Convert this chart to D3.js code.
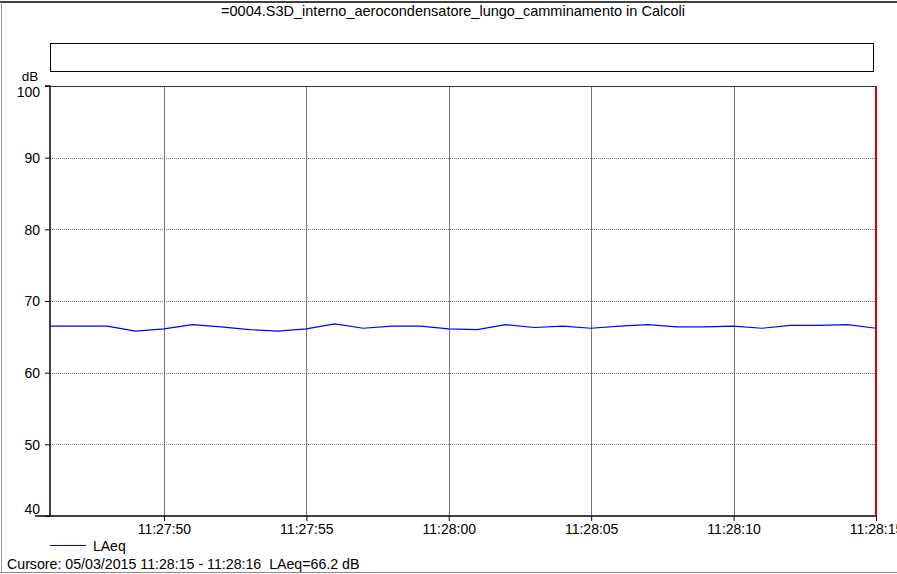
<!DOCTYPE html>
<html>
<head>
<meta charset="utf-8">
<script src="https://cdn.jsdelivr.net/npm/d3@7"></script>
<style>
html,body{margin:0;padding:0;background:#fff;}
svg{display:block;font-family:"Liberation Sans",Arial,sans-serif;}
</style>
</head>
<body>
<svg id="chart" width="897" height="574"></svg>
<script>
const title = "=0004.S3D_interno_aerocondensatore_lungo_camminamento in Calcoli";
const times = ["11:27:46","11:27:47","11:27:48","11:27:49","11:27:50","11:27:51","11:27:52","11:27:53","11:27:54","11:27:55",
"11:27:56","11:27:57","11:27:58","11:27:59","11:28:00","11:28:01","11:28:02","11:28:03","11:28:04","11:28:05",
"11:28:06","11:28:07","11:28:08","11:28:09","11:28:10","11:28:11","11:28:12","11:28:13","11:28:14","11:28:15"];
const laeq = [66.5,66.5,66.5,65.8,66.1,66.7,66.4,66.0,65.8,66.1,
66.8,66.2,66.5,66.5,66.1,66.0,66.7,66.3,66.5,66.2,
66.5,66.7,66.4,66.4,66.5,66.2,66.6,66.6,66.7,66.2];
const xTickLabels = ["11:27:50","11:27:55","11:28:00","11:28:05","11:28:10","11:28:15"];
const yTicks = [40,50,60,70,80,90,100];
const cursorTime = "11:28:15";
const seriesName = "LAeq";
const unit = "dB";
const cursorText = "Cursore: 05/03/2015 11:28:15 - 11:28:16  LAeq=66.2 dB";

const parse = d3.timeParse("%H:%M:%S");
const svg = d3.select("#chart");
const L = 50, R = 876, T = 86, B = 516;

const x = d3.scaleTime().domain([parse(times[0]), parse(times[times.length-1])]).range([L, R]);
const y = d3.scaleLinear().domain([40, 100]).range([B, T]);

// outer frame
svg.append("line").attr("x1",0).attr("x2",897).attr("y1",2).attr("y2",2).attr("stroke","#000").attr("stroke-width",1.5);
svg.append("line").attr("x1",1.5).attr("x2",1.5).attr("y1",2).attr("y2",573).attr("stroke","#999").attr("stroke-width",1);
svg.append("line").attr("x1",0).attr("x2",897).attr("y1",572.5).attr("y2",572.5).attr("stroke","#888").attr("stroke-width",1);

// title
svg.append("text").attr("x",453).attr("y",16).attr("text-anchor","middle")
  .style("font-size","14.5px").attr("fill","#000").text(title);

// empty box
svg.append("rect").attr("x",50.5).attr("y",43.5).attr("width",823).attr("height",28)
  .attr("fill","none").attr("stroke","#000").attr("stroke-width",1);

// unit
svg.append("text").attr("x",30).attr("y",81).attr("text-anchor","middle").style("font-size","13.5px").text(unit);

// horizontal grid (dotted)
svg.append("g").selectAll("line").data(yTicks.filter(v=>v>40 && v<100)).join("line")
  .attr("x1",L).attr("x2",R).attr("y1",d=>Math.round(y(d))+0.5).attr("y2",d=>Math.round(y(d))+0.5)
  .attr("stroke","#777").attr("stroke-width",1).attr("stroke-dasharray","1,1");

// vertical grid
const xTickDates = xTickLabels.map(parse);
svg.append("g").selectAll("line").data(xTickDates.slice(0,-1)).join("line")
  .attr("x1",d=>Math.round(x(d))+0.5).attr("x2",d=>Math.round(x(d))+0.5).attr("y1",T).attr("y2",B)
  .attr("stroke","#777").attr("stroke-width",1);

// top border
svg.append("line").attr("x1",L).attr("x2",R).attr("y1",T+0.5).attr("y2",T+0.5).attr("stroke","#333").attr("stroke-width",1.2);

// y axis
const yAxis = d3.axisLeft(y).tickValues(yTicks).tickSize(5).tickPadding(5).tickFormat(d3.format("d"));
const gy = svg.append("g").attr("transform",`translate(${L},0)`).call(yAxis);
gy.select(".domain").attr("stroke","#000").attr("stroke-width",1.5).attr("d",`M-5,${T}H0V${B}`);
gy.selectAll(".tick text").style("font-size","14px").attr("fill","#000")
  .attr("dy",d=> d===100 ? "0.75em" : d===40 ? "-0.2em" : "0.35em");
gy.selectAll(".tick line").attr("stroke","#000");

// x axis
const xAxis = d3.axisBottom(x).tickValues(xTickDates).tickSize(5).tickPadding(3).tickFormat(d3.timeFormat("%H:%M:%S"));
const gx = svg.append("g").attr("transform",`translate(0,${B})`).call(xAxis);
gx.select(".domain").attr("stroke","#000").attr("stroke-width",1.5).attr("d",`M${L-15},0H${R}`);
gx.selectAll(".tick text").style("font-size","14px").attr("fill","#000");
gx.selectAll(".tick line").attr("stroke","#000");

// data line
const line = d3.line().x((d,i)=>x(parse(times[i]))).y(d=>y(d));
svg.append("path").datum(laeq).attr("d",line).attr("fill","none").attr("stroke","#0000ff").attr("stroke-width",1.2);

// cursor
svg.append("line").attr("x1",x(parse(cursorTime))).attr("x2",x(parse(cursorTime))).attr("y1",T).attr("y2",B)
  .attr("stroke","#e00000").attr("stroke-width",2);

// legend
svg.append("line").attr("x1",50).attr("x2",86).attr("y1",545.5).attr("y2",545.5).attr("stroke","#0000ff").attr("stroke-width",1);
svg.append("text").attr("x",93).attr("y",551).style("font-size","14px").text(seriesName);

// cursor text
svg.append("text").attr("x",7).attr("y",569).style("font-size","14.2px").style("white-space","pre").text(cursorText);
</script>
</body>
</html>
